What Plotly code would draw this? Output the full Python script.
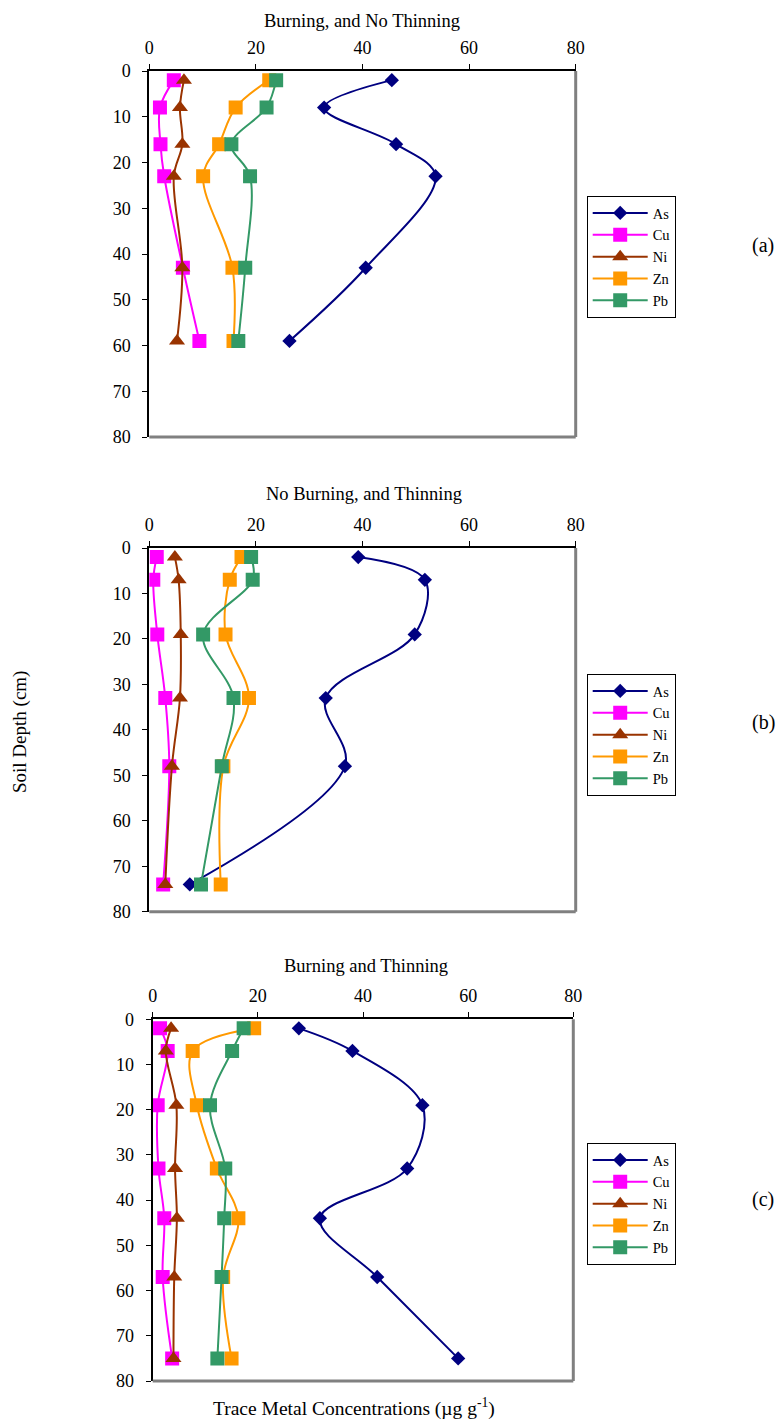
import plotly.graph_objects as go

# ---------------- data ----------------
metals = ["As", "Cu", "Ni", "Zn", "Pb"]
panel_titles = ["Burning, and No Thinning", "No Burning, and Thinning", "Burning and Thinning"]
panel_labels = ["(a)", "(b)", "(c)"]
x_ticks = [0, 20, 40, 60, 80]
y_ticks = [0, 10, 20, 30, 40, 50, 60, 70, 80]

depth_a = [2, 8, 16, 23, 43, 59]
as_a = [45.5, 32.8, 46.3, 53.7, 40.6, 26.3]
cu_a = [4.6, 2.0, 2.1, 2.8, 6.3, 9.4]
ni_a = [6.5, 5.75, 6.2, 4.6, 6.2, 5.2]
zn_a = [22.5, 16.2, 13.1, 10.1, 15.6, 15.8]
pb_a = [23.8, 22.0, 15.4, 18.9, 18.0, 16.7]

depth_b = [2, 7, 19, 33, 48, 74]
as_b = [39.2, 51.7, 49.8, 33.1, 36.7, 7.6]
cu_b = [1.4, 0.75, 1.5, 3.0, 3.75, 2.6]
ni_b = [4.8, 5.5, 5.9, 5.75, 4.25, 3.0]
zn_b = [17.3, 15.1, 14.3, 18.7, 13.9, 13.4]
pb_b = [19.1, 19.4, 10.1, 15.8, 13.6, 9.7]

depth_c = [2, 7, 19, 33, 44, 57, 75]
as_c = [27.8, 38.0, 51.3, 48.4, 31.8, 42.7, 58.1]
cu_c = [1.4, 2.85, 0.95, 1.1, 2.2, 1.9, 3.7]
ni_c = [3.5, 2.5, 4.5, 4.25, 4.6, 4.1, 3.95]
zn_c = [19.3, 7.6, 8.4, 12.2, 16.3, 13.4, 15.0]
pb_c = [17.3, 15.1, 10.9, 13.8, 13.6, 13.1, 12.3]

# ---------------- styles ----------------
W, H = 779, 1419
FONT = "Liberation Serif, Times New Roman, serif"
colors = {"As": "#000080", "Cu": "#FF00FF", "Ni": "#993300", "Zn": "#FF9900", "Pb": "#339966"}
symbols = {"As": "diamond", "Cu": "square", "Ni": "triangle-up", "Zn": "square", "Pb": "square"}
msizes = {"As": 11, "Cu": 14, "Ni": 14, "Zn": 14, "Pb": 14}

def px(x):
    return x / W

def py(y):
    return 1 - y / H

# panel pixel boxes: (left, right, top, bottom)
boxes = [(149.3, 575.7, 71, 437), (149.3, 575.7, 548, 911.7), (152.7, 573.3, 1019.3, 1381)]
legend_tops = [196, 674, 1143]
label_y = [245, 722, 1199]
title_pos = [(362, 21), (364, 494), (366, 966)]

panels = [
    (depth_a, [as_a, cu_a, ni_a, zn_a, pb_a]),
    (depth_b, [as_b, cu_b, ni_b, zn_b, pb_b]),
    (depth_c, [as_c, cu_c, ni_c, zn_c, pb_c]),
]

fig = go.Figure()
layout = dict(
    width=W, height=H, margin=dict(l=0, r=0, t=0, b=0),
    paper_bgcolor="white", plot_bgcolor="white",
    font=dict(family=FONT, size=18, color="black"),
    showlegend=True,
)
annotations = []
shapes = []

for i, (depth, series) in enumerate(panels):
    sfx = "" if i == 0 else str(i + 1)
    leg = "legend" if i == 0 else "legend" + str(i + 1)
    for m, vals in zip(metals, series):
        fig.add_trace(go.Scatter(
            x=vals, y=depth, name=m, mode="lines+markers",
            xaxis="x" + sfx, yaxis="y" + sfx, legend=leg,
            line=dict(color=colors[m], width=2, shape="spline", smoothing=1.0),
            marker=dict(symbol=symbols[m], size=msizes[m], color=colors[m],
                        line=dict(width=0)),
        ))
    l, r, t, b = boxes[i]
    layout["xaxis" + sfx] = dict(
        domain=[px(l), px(r)], anchor="y" + sfx, side="top", range=[0, 80],
        tickvals=x_ticks, ticktext=[str(v) for v in x_ticks],
        showline=True, linecolor="black", linewidth=2, mirror=False,
        ticks="outside", ticklen=5, tickwidth=1, tickcolor="black",
        showgrid=False, zeroline=False, tickfont=dict(size=18),
        ticklabelstandoff=3, automargin=False,
    )
    layout["yaxis" + sfx] = dict(
        domain=[py(b), py(t)], anchor="x" + sfx, range=[80, 0],
        tickvals=y_ticks, ticktext=[str(v) for v in y_ticks],
        showline=True, linecolor="black", linewidth=2,
        ticks="outside", ticklen=5, tickwidth=1, tickcolor="black",
        showgrid=False, zeroline=False, tickfont=dict(size=18),
        ticklabelstandoff=8, automargin=False,
    )
    layout[leg] = dict(
        x=px(586.7), y=py(legend_tops[i]), xanchor="left", yanchor="top",
        bordercolor="black", borderwidth=1, bgcolor="white",
        font=dict(family=FONT, size=14.5, color="black"),
        tracegroupgap=0, itemwidth=55,
    )
    # grey right / bottom frame
    shapes.append(dict(type="line", xref="x" + sfx + " domain", yref="y" + sfx + " domain",
                       x0=1, x1=1, y0=0, y1=1, line=dict(color="#808080", width=3)))
    shapes.append(dict(type="line", xref="x" + sfx + " domain", yref="y" + sfx + " domain",
                       x0=0, x1=1, y0=0, y1=0, line=dict(color="#808080", width=3)))
    tx, ty = title_pos[i]
    annotations.append(dict(text=panel_titles[i], x=px(tx), y=py(ty), xref="paper", yref="paper",
                            showarrow=False, xanchor="center", yanchor="middle",
                            font=dict(family=FONT, size=18.5)))
    annotations.append(dict(text=panel_labels[i], x=px(763), y=py(label_y[i]), xref="paper", yref="paper",
                            showarrow=False, xanchor="center", yanchor="middle",
                            font=dict(family=FONT, size=20)))

annotations.append(dict(text="Soil Depth (cm)", x=px(20), y=py(732), xref="paper", yref="paper",
                        showarrow=False, textangle=-90, xanchor="center", yanchor="middle",
                        font=dict(family=FONT, size=19)))
annotations.append(dict(text="Trace Metal Concentrations (µg g<sup>-1</sup>)", x=px(354), y=py(1407),
                        xref="paper", yref="paper", showarrow=False, xanchor="center", yanchor="middle",
                        font=dict(family=FONT, size=19.5)))

layout["annotations"] = annotations
layout["shapes"] = shapes
fig.update_layout(**layout)
fig.write_html("out.html", config={"displayModeBar": False},
               post_script="document.body.style.margin='0';document.body.style.padding='0';"
                           "document.documentElement.style.overflow='hidden';")
